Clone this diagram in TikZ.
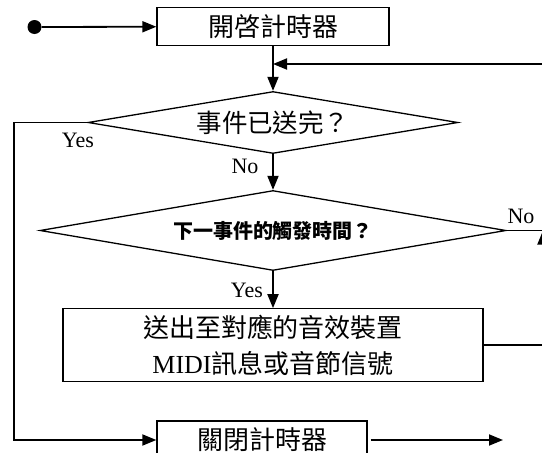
\documentclass[tikz,border=0pt]{standalone}
\usepackage{fontspec}
\setmainfont{Liberation Serif}
\newfontfamily\cjk{Noto Sans CJK TC}
\usetikzlibrary{arrows.meta,shapes.geometric}
\begin{document}
\begin{tikzpicture}[x=1pt,y=-1pt,
  box/.style={draw,line width=1.3pt,inner sep=0pt,align=center,font=\fontsize{26}{36}\selectfont},
  dia/.style={draw,diamond,line width=1.3pt,inner sep=0pt,shape aspect=6},
  conn/.style={line width=1.8pt,-{Triangle[length=14pt,width=11pt]}},
  plain/.style={line width=1.8pt},
  lab/.style={font=\fontsize{22}{24}\selectfont,inner sep=0pt}]
\useasboundingbox (0,0) rectangle (542,453);
\clip (0,0) rectangle (542,453);
% nodes
\node[circle,fill,minimum size=14pt,inner sep=0pt] (dot) at (34.5,27) {};
\node[box,minimum width=232pt,minimum height=38pt] (start) at (273,26.5) {\cjk 開啓計時器};
\node[dia,minimum width=370pt,minimum height=62pt,font=\cjk\fontsize{25.5}{30}\selectfont] (d1) at (273,122.5) {事件已送完？};
\node[dia,minimum width=466pt,minimum height=80pt,font=\cjk\bfseries\fontsize{20}{24}\selectfont] (d2) at (273,230.5) {下一事件的觸發時間？};
\node[box,minimum width=420pt,minimum height=73pt] (proc) at (273,345.3) {{\cjk 送出至對應的音效裝置}\\MIDI{\cjk 訊息或音節信號}};
\node[box,minimum width=210pt,minimum height=38pt] (stop) at (262,440) {\cjk 關閉計時器};
% labels
\node[lab] (y1) at (78,140) {Yes};
\node[lab] (n1) at (245,166) {No};
\node[lab] (n2) at (521,216) {No};
\node[lab] (y2) at (247,290) {Yes};
% helper coordinates
\coordinate (rx) at (543,0);
\coordinate (lx) at (14,0);
\coordinate (rtop) at (543,64);
\coordinate (out) at (503,441);
% connectors
\draw[conn] (dot) -- (start);
\draw[conn] (start) -- (d1);
\draw[conn] (rtop) -- (start.south |- rtop);
\draw[conn] (d1) -- (d2);
\draw[conn] (d2) -- (proc);
\draw[conn] (d1.west) -- (d1.west -| lx) -- (lx |- stop.west) -- (stop.west);
\draw[plain] (d2.east) -- (d2.east -| rx) -- (rtop);
\draw[conn] (proc.east) -- (proc.east -| rx) -- (d2.east -| rx);
\draw[conn,shorten <=3pt] (stop.east) -- (stop.east -| out);
\end{tikzpicture}
\end{document}
